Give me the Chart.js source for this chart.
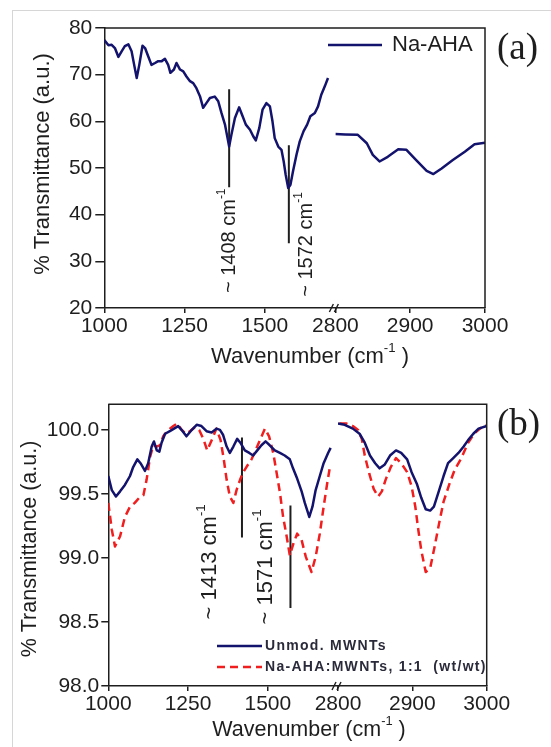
<!DOCTYPE html>
<html lang="en">
<head>
<meta charset="UTF-8">
<title>FTIR spectra: Na-AHA and MWNTs</title>
<script src="https://cdn.jsdelivr.net/npm/chart.js"></script>
<style>
  html, body { margin: 0; padding: 0; background: #fff; overflow: hidden; }
  body { width: 551px; height: 747px; position: relative; }
  .frame { position: absolute; left: 12px; top: 10px; width: 600px; height: 800px; border: 1px solid #d6d6d6; }
  canvas { position: absolute; left: 0; }
  #chartA { top: 0; }
  #chartB { top: 373px; }
</style>
</head>
<body>
<div class="frame"></div>
<canvas id="chartA" width="551" height="373"></canvas>
<canvas id="chartB" width="551" height="374"></canvas>
<script>
// ---- panel (a): Na-AHA, split wavenumber axis ----
const aLowWn = [1000,1013,1023,1033,1044,1054,1064,1075,1085,1095,1101,1109,1119,1127,1137,1147,1158,1168,1179,1189,
  1199,1206,1217,1225,1236,1246,1256,1267,1277,1287,1298,1308,1318,1329,1344,1355,1365,1376,1384,1389,
  1396,1407,1420,1431,1441,1454,1464,1472,1483,1493,1505,1516,1524,1531,1542,1552,1559,1565,1573,1580,
  1588,1599,1609,1621,1632,1642,1656,1666,1676,1687,1697];
const aLowT = [77.4,76.3,76.4,75.7,73.8,75.0,76.1,76.5,75.0,71.4,69.3,72.1,76.2,75.7,73.9,72.1,72.5,72.9,72.9,73.4,
  72.1,70.4,71.1,72.5,71.1,70.7,69.6,68.6,68.2,67.1,65.4,62.9,63.9,65.0,65.3,64.3,61.8,59.3,56.4,54.6,
  57.1,60.7,63.0,61.1,59.3,58.2,56.8,55.9,58.6,62.5,63.9,63.2,60.0,56.4,54.6,53.9,51.4,48.6,45.7,46.4,
  49.3,52.9,55.7,57.9,59.3,61.1,61.8,63.2,65.7,67.5,69.3];
const aHighWn = [2800,2813,2830,2842,2850,2859,2870,2884,2895,2908,2922,2931,2942,2957,2973,2986,3000];
const aHighT = [57.3,57.2,57.1,55.3,52.8,51.4,52.4,54.0,53.9,51.7,49.4,48.7,49.9,51.7,53.5,55.1,55.4];
const aPeakLabels = ['1408', '1572'];
const aPeakWn = [1389, 1575];
const aPeakTop = [66.9, 54.9];
const aPeakBottom = [45.9, 33.9];

// ---- panel (b): MWNTs ----
const bUnmodLowWn = [1000,1011,1024,1037,1052,1068,1078,1091,1101,1115,1125,1136,1143,1152,1160,1167,1178,1193,1206,1219,
  1233,1245,1258,1277,1292,1308,1324,1339,1350,1360,1371,1381,1392,1404,1414,1428,1442,1454,1467,1480,
  1493,1506,1522,1538,1553,1569,1579,1592,1606,1616,1630,1640,1650,1663,1675,1689,1697];
const bUnmodLowT = [99.64,99.53,99.48,99.52,99.57,99.64,99.71,99.77,99.74,99.68,99.74,99.87,99.91,99.84,99.83,99.90,99.97,99.99,100.01,100.03,
  99.99,99.95,99.99,100.04,100.03,99.99,99.98,100.01,100.00,99.96,99.87,99.82,99.87,99.93,99.90,99.84,99.82,99.80,99.84,99.88,
  99.91,99.88,99.84,99.82,99.80,99.77,99.70,99.62,99.52,99.43,99.32,99.40,99.53,99.64,99.74,99.82,99.86];
const bMixLowWn = [1000,1011,1021,1037,1052,1068,1083,1097,1110,1120,1131,1141,1152,1162,1172,1188,1204,1216,1230,1243,
  1256,1271,1285,1298,1310,1324,1339,1352,1362,1371,1381,1392,1402,1413,1423,1433,1449,1465,1477,1491,
  1504,1517,1528,1538,1548,1559,1569,1580,1592,1606,1619,1637,1650,1663,1675,1686,1694];
const bMixLowT = [99.43,99.22,99.09,99.17,99.32,99.40,99.43,99.47,99.49,99.61,99.79,99.88,99.87,99.88,99.95,100.00,100.03,100.05,100.00,99.97,
  99.99,100.02,100.00,99.93,99.84,99.92,100.01,99.92,99.77,99.61,99.48,99.43,99.53,99.61,99.67,99.71,99.77,99.86,99.93,100.01,
  99.95,99.82,99.66,99.51,99.32,99.17,99.02,99.11,99.19,99.14,99.01,98.89,99.01,99.19,99.40,99.58,99.70];
const bUnmodHighWn = [2800,2809,2820,2829,2836,2843,2850,2856,2863,2870,2878,2885,2893,2899,2906,2912,2918,2924,2929,2935,
  2942,2948,2955,2962,2969,2975,2982,2989,3000];
const bUnmodHighT = [100.05,100.04,100.01,99.97,99.90,99.80,99.74,99.70,99.73,99.80,99.84,99.82,99.77,99.67,99.58,99.47,99.38,99.37,99.40,99.51,
  99.64,99.74,99.78,99.82,99.87,99.92,99.97,100.01,100.03];
const bMixHighWn = [2802,2811,2820,2827,2832,2836,2842,2848,2854,2859,2864,2871,2878,2885,2893,2899,2904,2908,2912,2918,
  2924,2930,2936,2942,2950,2957,2966,2975,2983,2991,3000];
const bMixHighT = [100.05,100.05,100.03,100.00,99.93,99.80,99.66,99.54,99.48,99.52,99.61,99.71,99.78,99.74,99.67,99.56,99.40,99.22,99.06,98.89,
  98.92,99.09,99.27,99.44,99.58,99.69,99.78,99.90,99.97,100.01,100.04];
const bPeakLabels = ['1413', '1571'];
const bPeakWn = [1419, 1571];
const bPeakTop = [99.94, 99.41];
const bPeakBottom = [99.16, 98.61];

// ---- axes ----
const lowRange = [1000, 1720];
const highRange = [2800, 3000];
const lowTicks = [1000, 1250, 1500];
const highTicks = [2800, 2900, 3000];
const aYTicks = [20, 30, 40, 50, 60, 70, 80];
const bYTicks = [98.0, 98.5, 99.0, 99.5, 100.0];

const sans = 'Arial, "Liberation Sans", Helvetica, sans-serif';
const serif = '"Times New Roman", "Liberation Serif", serif';
const navy = '#13136e';
const red = '#f01e1e';
const ink = '#1e1e1e';

const pts = (xs, ys) => xs.map((x, i) => ({x, y: ys[i]}));
const fixTicks = vals => scale => { scale.ticks = vals.map(v => ({value: v})); };

function spectrum(label, xs, ys, axis, color, dash) {
  return {
    label, data: pts(xs, ys), xAxisID: axis, borderColor: color, borderWidth: 2.5,
    borderDash: dash || [], pointRadius: 0, borderJoinStyle: 'round', tension: 0
  };
}

function peakLines(wn, top, bottom) {
  return wn.map((w, i) => ({
    label: 'peak', data: [{x: w, y: top[i]}, {x: w, y: bottom[i]}], xAxisID: 'xLow',
    borderColor: ink, borderWidth: 2, pointRadius: 0
  }));
}

function xScale(range, ticks, weight, height) {
  return {
    type: 'linear', position: 'bottom', stack: 'wn', stackWeight: weight,
    min: range[0], max: range[1],
    afterBuildTicks: fixTicks(ticks),
    afterFit: s => { s.height = height; },
    grid: {display: true, drawOnChartArea: false, drawTicks: true, tickLength: 5, color: ink, lineWidth: 1.5},
    border: {color: ink, width: 1.5},
    ticks: {color: ink, font: {family: sans, size: 21}, padding: 1, maxRotation: 0, autoSkip: false, callback: v => String(v)}
  };
}

function yScale(min, max, ticks, width, tickLen, pad, fmt) {
  return {
    type: 'linear', position: 'left', min, max,
    afterBuildTicks: fixTicks(ticks),
    afterFit: s => { s.width = width; },
    grid: {display: true, drawOnChartArea: false, drawTicks: true, tickLength: tickLen, color: ink, lineWidth: 1.5},
    border: {color: ink, width: 1.5},
    ticks: {color: ink, font: {family: sans, size: 21}, padding: pad, callback: fmt}
  };
}

// text with optional superscript part, anchored at (x, y)
function drawRich(ctx, x, y, rot, align, size, base, sup, tail) {
  const f = s => `${s}px ${sans}`;
  ctx.save();
  ctx.translate(x, y);
  ctx.rotate(rot);
  ctx.textBaseline = 'middle';
  ctx.textAlign = 'left';
  ctx.font = f(size);
  const wb = ctx.measureText(base).width;
  const wt = ctx.measureText(tail).width;
  ctx.font = f(size * 0.6);
  const ws = ctx.measureText(sup).width;
  const x0 = align === 'center' ? -(wb + ws + wt) / 2 : 0;
  ctx.font = f(size);
  ctx.fillText(base, x0, 0);
  ctx.font = f(size * 0.6);
  ctx.fillText(sup, x0 + wb, -size * 0.4);
  ctx.font = f(size);
  ctx.fillText(tail, x0 + wb + ws, 0);
  ctx.restore();
}

function panelDecor(cfg) {
  return {
    id: 'panelDecor',
    afterDraw(chart) {
      const {ctx, chartArea: area, scales} = chart;
      ctx.save();
      // top and right sides of the frame
      ctx.strokeStyle = ink;
      ctx.lineWidth = 1.5;
      ctx.beginPath();
      ctx.moveTo(area.left, area.top);
      ctx.lineTo(area.right, area.top);
      ctx.lineTo(area.right, area.bottom);
      ctx.stroke();

      // axis break marks
      const bx = scales.xLow.right, by = area.bottom;
      ctx.lineWidth = 1.4;
      [-4, 1].forEach(dx => {
        ctx.beginPath();
        ctx.moveTo(bx + dx - 2, by + 4);
        ctx.lineTo(bx + dx + 2, by - 4);
        ctx.stroke();
      });

      ctx.fillStyle = ink;
      drawRich(ctx, cfg.xTitle.x, cfg.xTitle.y, 0, 'center', cfg.xTitle.size, 'Wavenumber (cm', '-1', ' )');
      drawRich(ctx, cfg.yTitle.x, cfg.yTitle.y, -Math.PI / 2, 'center', cfg.yTitle.size, '% Transmittance (a.u.)', '', '');

      cfg.peakText.forEach((p, i) => {
        const px = scales.xLow.getPixelForValue(p.wn);
        const py = scales.y.getPixelForValue(p.t);
        drawRich(ctx, px, py, -Math.PI / 2, 'left', cfg.peakSize, '~ ' + cfg.peakLabels[i] + ' cm', '-1', '');
      });

      ctx.font = `${cfg.letter.size}px ${serif}`;
      ctx.textBaseline = 'middle';
      ctx.textAlign = 'left';
      ctx.fillText(cfg.letter.text, cfg.letter.x, cfg.letter.y);

      // legend
      cfg.legend.items.forEach(item => {
        const ds = chart.data.datasets[item.ds];
        ctx.strokeStyle = ds.borderColor;
        ctx.lineWidth = ds.borderWidth;
        ctx.setLineDash(ds.borderDash || []);
        ctx.beginPath();
        ctx.moveTo(item.x0, item.y);
        ctx.lineTo(item.x1, item.y);
        ctx.stroke();
        ctx.setLineDash([]);
        ctx.font = cfg.legend.font;
        ctx.letterSpacing = cfg.legend.spacing || '0px';
        ctx.fillStyle = cfg.legend.color;
        ctx.fillText(ds.label, item.tx, item.y);
      });
      ctx.restore();
    }
  };
}

const common = {
  responsive: false,
  animation: false,
  plugins: {legend: {display: false}, tooltip: {enabled: false}}
};

new Chart(document.getElementById('chartA'), {
  type: 'line',
  data: {
    datasets: [
      spectrum('Na-AHA', aLowWn, aLowT, 'xLow', navy),
      spectrum('Na-AHA', aHighWn, aHighT, 'xHigh', navy),
      ...peakLines(aPeakWn, aPeakTop, aPeakBottom)
    ]
  },
  options: {
    ...common,
    layout: {padding: {top: 28, right: 66, bottom: 0, left: 0}},
    scales: {
      xLow: xScale(lowRange, lowTicks, 0.607, 65),
      xHigh: xScale(highRange, highTicks, 0.393, 65),
      y: yScale(20, 80, aYTicks, 104.3, 9, 3, v => String(v))
    }
  },
  plugins: [panelDecor({
    xTitle: {x: 310, y: 357, size: 22},
    yTitle: {x: 43, y: 164, size: 22},
    peakLabels: aPeakLabels,
    peakText: [{wn: 1391, t: 23.2}, {wn: 1631, t: 22.4}],
    peakSize: 20,
    letter: {text: '(a)', x: 497, y: 49, size: 37},
    legend: {font: `22px ${sans}`, color: ink, items: [{ds: 0, x0: 328, x1: 382, y: 45, tx: 392}]}
  })]
});

new Chart(document.getElementById('chartB'), {
  type: 'line',
  data: {
    datasets: [
      spectrum('Unmod. MWNTs', bUnmodLowWn, bUnmodLowT, 'xLow', navy),
      spectrum('Na-AHA:MWNTs, 1:1  (wt/wt)', bMixLowWn, bMixLowT, 'xLow', red, [8, 5]),
      spectrum('Unmod. MWNTs', bUnmodHighWn, bUnmodHighT, 'xHigh', navy),
      spectrum('Na-AHA:MWNTs, 1:1  (wt/wt)', bMixHighWn, bMixHighT, 'xHigh', red, [8, 5]),
      ...peakLines(bPeakWn, bPeakTop, bPeakBottom)
    ]
  },
  options: {
    ...common,
    layout: {padding: {top: 31.3, right: 64.3, bottom: 0, left: 0}},
    scales: {
      xLow: xScale(lowRange, lowTicks, 0.607, 61),
      xHigh: xScale(highRange, highTicks, 0.393, 61),
      y: yScale(98, 100.2, bYTicks, 108.3, 7, 2, v => v.toFixed(1))
    }
  },
  plugins: [panelDecor({
    xTitle: {x: 309, y: 357, size: 21.5},
    yTitle: {x: 30, y: 176, size: 21.5},
    peakLabels: bPeakLabels,
    peakText: [{wn: 1318, t: 98.52}, {wn: 1494, t: 98.48}],
    peakSize: 22,
    letter: {text: '(b)', x: 497, y: 52, size: 37},
    legend: {font: `bold 14px ${sans}`, spacing: '1.3px', color: '#2a2a3a', items: [
      {ds: 0, x0: 217, x1: 262, y: 273, tx: 265},
      {ds: 1, x0: 217, x1: 262, y: 294, tx: 265}
    ]}
  })]
});
</script>
</body>
</html>
